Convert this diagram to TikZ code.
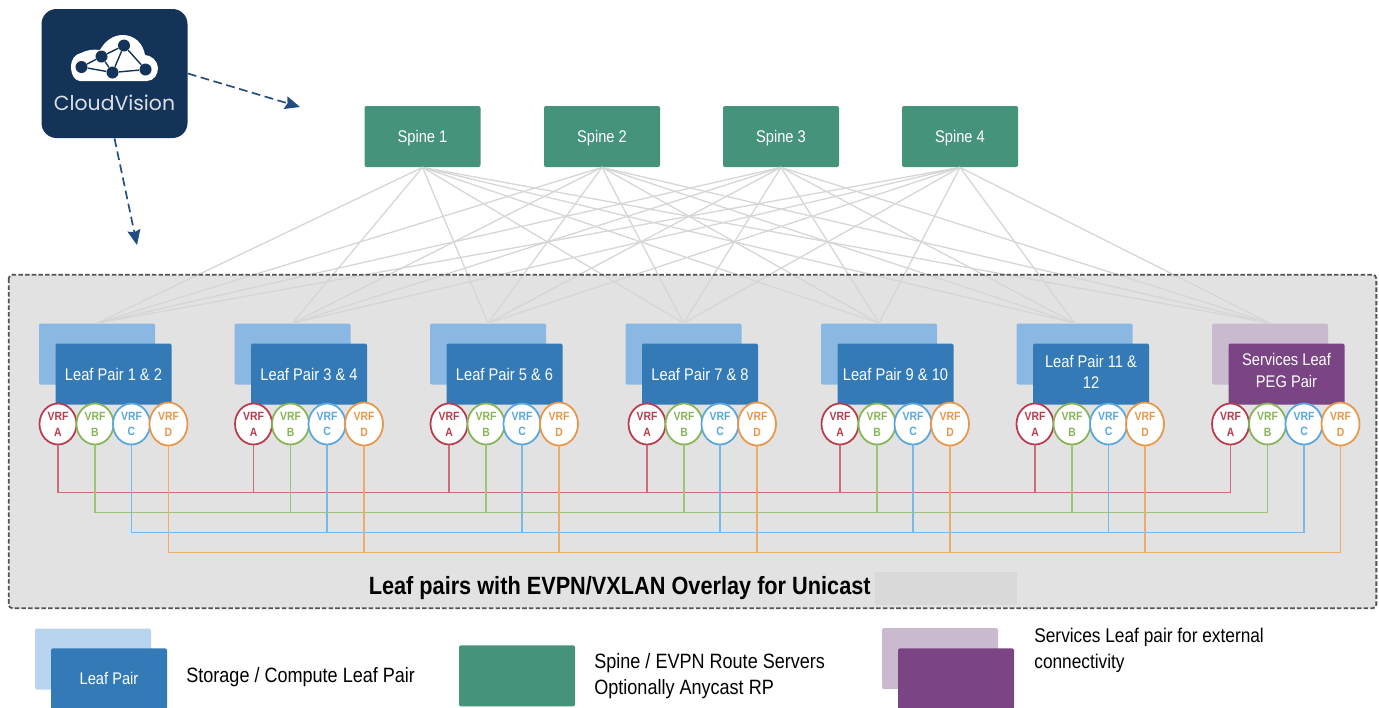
\documentclass[tikz,border=0pt]{standalone}
\usepackage{fontspec}
\setmainfont[FakeStretch=0.87]{Liberation Sans}
\newfontfamily\cvfont{Poppins}
\usetikzlibrary{shapes.geometric}
\usetikzlibrary{arrows.meta}
\definecolor{myspinecolor}{HTML}{45937b}
\definecolor{myleafcolor}{HTML}{337ab7}
\definecolor{myleafbackcolor}{HTML}{8ab8e2}
\definecolor{mypegcolor}{HTML}{7b4484}
\definecolor{mypegbackcolor}{HTML}{c9bad0}
\definecolor{myframecolor}{HTML}{e2e2e2}
\definecolor{mylinkcolor}{HTML}{d6d6d6}
\definecolor{mycvcolor}{HTML}{143358}
\definecolor{myarrowcolor}{HTML}{234d80}
\definecolor{myredcolor}{HTML}{b83c4e}
\definecolor{mygreencolor}{HTML}{86b557}
\definecolor{mybluecolor}{HTML}{5aa7de}
\definecolor{myorangecolor}{HTML}{e8974a}
\tikzset{
  boxnode/.style={rectangle, rounded corners=0.04cm, minimum width=2.32cm, minimum height=1.22cm, inner sep=0pt, text=white, align=center, font=\fontsize{9.6pt}{12.2pt}\selectfont},
  spinebox/.style={boxnode, fill=myspinecolor, text depth=0pt},
  leafback/.style={boxnode, fill=myleafbackcolor},
  leafbox/.style={boxnode, fill=myleafcolor},
  pegback/.style={boxnode, fill=mypegbackcolor},
  pegbox/.style={boxnode, fill=mypegcolor},
  vrfnode/.style={ellipse, draw, line width=1pt, fill=white, minimum width=0.74cm, minimum height=0.82cm, inner sep=0pt, align=center, font=\bfseries\fontsize{6.8pt}{9pt}\selectfont},
  vrfa/.style={vrfnode, draw=myredcolor, text=myredcolor},
  vrfb/.style={vrfnode, draw=mygreencolor, text=mygreencolor},
  vrfc/.style={vrfnode, draw=mybluecolor, text=mybluecolor},
  vrfd/.style={vrfnode, draw=myorangecolor, text=myorangecolor, minimum width=0.76cm, minimum height=0.86cm},
  linka/.style={myredcolor!75!white, line width=0.8pt},
  linkb/.style={mygreencolor!80!white, line width=0.75pt},
  linkc/.style={mybluecolor!80!white, line width=0.75pt},
  linkd/.style={myorangecolor!80!white, line width=0.75pt},
  fabric/.style={mylinkcolor, line width=0.75pt},
  cvarrow/.style={myarrowcolor, line width=0.95pt, dash pattern=on 5pt off 2.6pt, -{Stealth[length=0.3cm,width=0.26cm,inset=0.04cm]}},
  cvdot/.style={circle, fill=mycvcolor, minimum size=0.24cm, inner sep=0pt},
  cvedge/.style={mycvcolor, line width=0.8pt},
  legendtext/.style={anchor=west, align=left, inner sep=0pt, font=\fontsize{11.8pt}{14.7pt}\selectfont},
}
\begin{document}
\begin{tikzpicture}%
\useasboundingbox (0, 0) rectangle (27.58, -14.14);%
\node[rectangle, rounded corners=0.08cm, fill=myframecolor, minimum width=27.34cm, minimum height=6.66cm] (framefill) at (13.85, -8.83) {};%
\node[rectangle, rounded corners=0.3cm, fill=mycvcolor, minimum width=2.92cm, minimum height=2.58cm, inner sep=0pt] (cv) at (2.29, -1.47) {};%
\fill[white] (1.60, -1.62) -- (2.94, -1.62) .. controls (3.08, -1.62) and (3.16, -1.48) .. (3.16, -1.36) .. controls (3.16, -1.22) and (3.02, -1.10) .. (2.90, -1.10) .. controls (2.86, -0.86) and (2.68, -0.70) .. (2.46, -0.70) .. controls (2.26, -0.70) and (2.10, -0.82) .. (2.00, -1.00) .. controls (1.86, -0.98) and (1.74, -1.00) .. (1.62, -1.06) .. controls (1.50, -1.08) and (1.42, -1.20) .. (1.42, -1.32) .. controls (1.42, -1.50) and (1.50, -1.62) .. (1.60, -1.62) -- cycle;%
\node[cvdot] (cvdot1) at (1.63, -1.34) {};%
\node[cvdot] (cvdot2) at (2.03, -1.13) {};%
\node[cvdot] (cvdot3) at (2.48, -0.91) {};%
\node[cvdot] (cvdot4) at (2.25, -1.45) {};%
\node[cvdot] (cvdot5) at (2.91, -1.39) {};%
\draw[cvedge] (cvdot1) -- (cvdot2);%
\draw[cvedge] (cvdot2) -- (cvdot3);%
\draw[cvedge] (cvdot1) -- (cvdot4);%
\draw[cvedge] (cvdot2) -- (cvdot4);%
\draw[cvedge] (cvdot3) -- (cvdot4);%
\draw[cvedge] (cvdot3) -- (cvdot5);%
\draw[cvedge] (cvdot4) -- (cvdot5);%
\node[text=white!85!mycvcolor, font=\cvfont\fontsize{11.6pt}{11.6pt}\selectfont] (cvlabel) at (2.29, -2.06) {CloudVision};%
\coordinate (cvspines) at (6.00, -2.14);%
\coordinate (cvleafs) at (2.74, -4.90);%
\draw[cvarrow] (cv.east) -- (cvspines);%
\draw[cvarrow] (cv.south) -- (cvleafs);%
\node[leafback] (back1) at (1.94, -7.08) {};%
\node[leafback] (back2) at (5.85, -7.08) {};%
\node[leafback] (back3) at (9.76, -7.08) {};%
\node[leafback] (back4) at (13.67, -7.08) {};%
\node[leafback] (back5) at (17.58, -7.08) {};%
\node[leafback] (back6) at (21.49, -7.08) {};%
\node[pegback] (back7) at (25.40, -7.08) {};%
\node[spinebox] (spine1) at (8.45, -2.73) {Spine 1};%
\node[spinebox] (spine2) at (12.04, -2.73) {Spine 2};%
\node[spinebox] (spine3) at (15.62, -2.73) {Spine 3};%
\node[spinebox] (spine4) at (19.20, -2.73) {Spine 4};%
\draw[fabric] (spine1.south) -- (back1.north);%
\draw[fabric] (spine1.south) -- (back2.north);%
\draw[fabric] (spine1.south) -- (back3.north);%
\draw[fabric] (spine1.south) -- (back4.north);%
\draw[fabric] (spine1.south) -- (back5.north);%
\draw[fabric] (spine1.south) -- (back6.north);%
\draw[fabric] (spine1.south) -- (back7.north);%
\draw[fabric] (spine2.south) -- (back1.north);%
\draw[fabric] (spine2.south) -- (back2.north);%
\draw[fabric] (spine2.south) -- (back3.north);%
\draw[fabric] (spine2.south) -- (back4.north);%
\draw[fabric] (spine2.south) -- (back5.north);%
\draw[fabric] (spine2.south) -- (back6.north);%
\draw[fabric] (spine2.south) -- (back7.north);%
\draw[fabric] (spine3.south) -- (back1.north);%
\draw[fabric] (spine3.south) -- (back2.north);%
\draw[fabric] (spine3.south) -- (back3.north);%
\draw[fabric] (spine3.south) -- (back4.north);%
\draw[fabric] (spine3.south) -- (back5.north);%
\draw[fabric] (spine3.south) -- (back6.north);%
\draw[fabric] (spine3.south) -- (back7.north);%
\draw[fabric] (spine4.south) -- (back1.north);%
\draw[fabric] (spine4.south) -- (back2.north);%
\draw[fabric] (spine4.south) -- (back3.north);%
\draw[fabric] (spine4.south) -- (back4.north);%
\draw[fabric] (spine4.south) -- (back5.north);%
\draw[fabric] (spine4.south) -- (back6.north);%
\draw[fabric] (spine4.south) -- (back7.north);%
\draw[black!68, line width=1pt, dash pattern=on 2.6pt off 1.2pt, rounded corners=0.08cm] (framefill.north west) rectangle (framefill.south east);%
\node[leafbox] (leaf1) at (2.27, -7.48) {Leaf Pair 1 \& 2};%
\node[leafbox] (leaf2) at (6.18, -7.48) {Leaf Pair 3 \& 4};%
\node[leafbox] (leaf3) at (10.09, -7.48) {Leaf Pair 5 \& 6};%
\node[leafbox] (leaf4) at (14.00, -7.48) {Leaf Pair 7 \& 8};%
\node[leafbox] (leaf5) at (17.91, -7.48) {Leaf Pair 9 \& 10};%
\node[leafbox, text depth=2.2pt] (leaf6) at (21.82, -7.48) {Leaf Pair 11 \&\\12};%
\node[pegbox, text depth=4pt] (leaf7) at (25.73, -7.48) {Services Leaf\\PEG Pair};%
\node[vrfa] (vrfa1) at (1.16, -8.48) {VRF\\A};%
\node[vrfb] (vrfb1) at (1.90, -8.48) {VRF\\B};%
\node[vrfc] (vrfc1) at (2.63, -8.48) {VRF\\C};%
\node[vrfd] (vrfd1) at (3.37, -8.48) {VRF\\D};%
\node[vrfa] (vrfa2) at (5.07, -8.48) {VRF\\A};%
\node[vrfb] (vrfb2) at (5.81, -8.48) {VRF\\B};%
\node[vrfc] (vrfc2) at (6.54, -8.48) {VRF\\C};%
\node[vrfd] (vrfd2) at (7.28, -8.48) {VRF\\D};%
\node[vrfa] (vrfa3) at (8.98, -8.48) {VRF\\A};%
\node[vrfb] (vrfb3) at (9.72, -8.48) {VRF\\B};%
\node[vrfc] (vrfc3) at (10.44, -8.48) {VRF\\C};%
\node[vrfd] (vrfd3) at (11.18, -8.48) {VRF\\D};%
\node[vrfa] (vrfa4) at (12.94, -8.48) {VRF\\A};%
\node[vrfb] (vrfb4) at (13.68, -8.48) {VRF\\B};%
\node[vrfc] (vrfc4) at (14.40, -8.48) {VRF\\C};%
\node[vrfd] (vrfd4) at (15.14, -8.48) {VRF\\D};%
\node[vrfa] (vrfa5) at (16.80, -8.48) {VRF\\A};%
\node[vrfb] (vrfb5) at (17.54, -8.48) {VRF\\B};%
\node[vrfc] (vrfc5) at (18.26, -8.48) {VRF\\C};%
\node[vrfd] (vrfd5) at (19.00, -8.48) {VRF\\D};%
\node[vrfa] (vrfa6) at (20.70, -8.48) {VRF\\A};%
\node[vrfb] (vrfb6) at (21.44, -8.48) {VRF\\B};%
\node[vrfc] (vrfc6) at (22.17, -8.48) {VRF\\C};%
\node[vrfd] (vrfd6) at (22.90, -8.48) {VRF\\D};%
\node[vrfa] (vrfa7) at (24.61, -8.48) {VRF\\A};%
\node[vrfb] (vrfb7) at (25.35, -8.48) {VRF\\B};%
\node[vrfc] (vrfc7) at (26.08, -8.48) {VRF\\C};%
\node[vrfd] (vrfd7) at (26.81, -8.48) {VRF\\D};%
\coordinate (busa) at (0, -9.85);%
\coordinate (busb) at (0, -10.25);%
\coordinate (busc) at (0, -10.65);%
\coordinate (busd) at (0, -11.05);%
\draw[linka] (vrfa1.south) |- (busa -| vrfa7.south) -- (vrfa7.south);%
\draw[linka] (vrfa2.south) -- (vrfa2.south |- busa);%
\draw[linka] (vrfa3.south) -- (vrfa3.south |- busa);%
\draw[linka] (vrfa4.south) -- (vrfa4.south |- busa);%
\draw[linka] (vrfa5.south) -- (vrfa5.south |- busa);%
\draw[linka] (vrfa6.south) -- (vrfa6.south |- busa);%
\draw[linkb] (vrfb1.south) |- (busb -| vrfb7.south) -- (vrfb7.south);%
\draw[linkb] (vrfb2.south) -- (vrfb2.south |- busb);%
\draw[linkb] (vrfb3.south) -- (vrfb3.south |- busb);%
\draw[linkb] (vrfb4.south) -- (vrfb4.south |- busb);%
\draw[linkb] (vrfb5.south) -- (vrfb5.south |- busb);%
\draw[linkb] (vrfb6.south) -- (vrfb6.south |- busb);%
\draw[linkc] (vrfc1.south) |- (busc -| vrfc7.south) -- (vrfc7.south);%
\draw[linkc] (vrfc2.south) -- (vrfc2.south |- busc);%
\draw[linkc] (vrfc3.south) -- (vrfc3.south |- busc);%
\draw[linkc] (vrfc4.south) -- (vrfc4.south |- busc);%
\draw[linkc] (vrfc5.south) -- (vrfc5.south |- busc);%
\draw[linkc] (vrfc6.south) -- (vrfc6.south |- busc);%
\draw[linkd] (vrfd1.south) |- (busd -| vrfd7.south) -- (vrfd7.south);%
\draw[linkd] (vrfd2.south) -- (vrfd2.south |- busd);%
\draw[linkd] (vrfd3.south) -- (vrfd3.south |- busd);%
\draw[linkd] (vrfd4.south) -- (vrfd4.south |- busd);%
\draw[linkd] (vrfd5.south) -- (vrfd5.south |- busd);%
\draw[linkd] (vrfd6.south) -- (vrfd6.south |- busd);%
\node[rectangle, fill=black!15, minimum width=2.84cm, minimum height=0.66cm] (titlepatch) at (18.92, -11.77) {};%
\node[anchor=east, inner sep=0pt, font=\bfseries\fontsize{14.2pt}{14.2pt}\selectfont] (title) at (17.42, -11.76) {Leaf pairs with EVPN/VXLAN Overlay for Unicast};%
\node[boxnode, fill=myleafbackcolor!60!white] (legendback) at (1.86, -13.18) {};%
\node[leafbox, anchor=north] (legendleaf) at (2.18, -12.96) {Leaf Pair};%
\node[legendtext] (legendleaftext) at (3.72, -13.55) {Storage / Compute Leaf Pair};%
\node[spinebox, anchor=north] (legendspine) at (10.34, -12.90) {};%
\node[legendtext] (legendspinetext) at (11.88, -13.52) {Spine / EVPN Route Servers\\Optionally Anycast RP};%
\node[pegback] (legendpegback) at (18.80, -13.17) {};%
\node[pegbox, anchor=north] (legendpeg) at (19.12, -12.96) {};%
\node[legendtext, font=\fontsize{11.3pt}{14.7pt}\selectfont] (legendpegtext) at (20.68, -13.00) {Services Leaf pair for external\\connectivity};%
\end{tikzpicture}
\end{document}
